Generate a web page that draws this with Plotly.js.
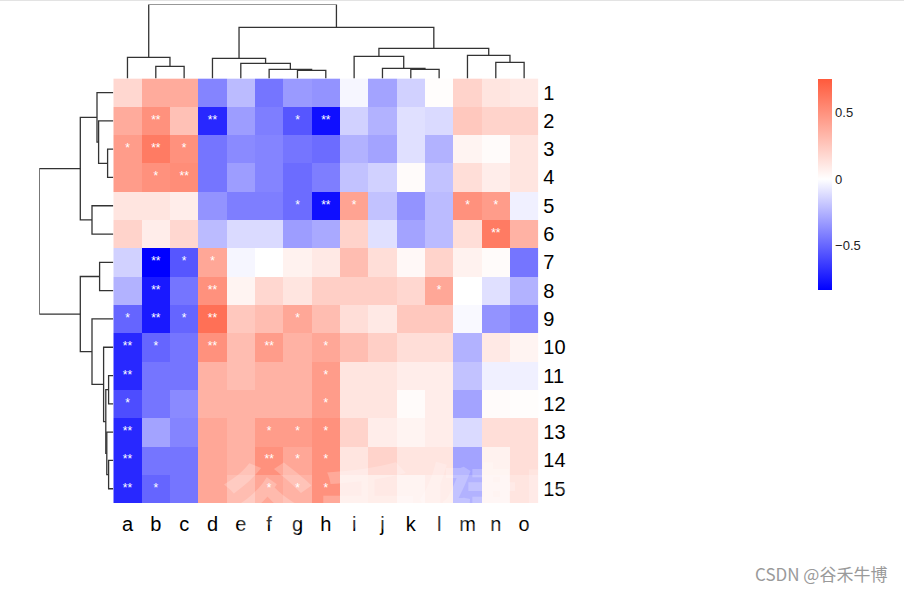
<!DOCTYPE html>
<html><head><meta charset="utf-8">
<script src="https://cdn.plot.ly/plotly-3.0.1.min.js"></script>
<style>html,body{margin:0;padding:0;background:#fff;} #chart{width:904px;height:590px;}</style>
</head><body><div id="chart"></div>
<script>
const colLabels = ['a','b','c','d','e','f','g','h','i','j','k','l','m','n','o'];
const rowLabels = ['1','2','3','4','5','6','7','8','9','10','11','12','13','14','15'];

// correlation values, rows 1..15, columns a..o
const row01 = [0.18, 0.38, 0.38, -0.40, -0.22, -0.45, -0.33, -0.35, -0.03, -0.30, -0.15, 0.01, 0.20, 0.12, 0.10];
const row02 = [0.38, 0.50, 0.28, -0.70, -0.32, -0.42, -0.55, -0.78, -0.15, -0.25, -0.10, -0.12, 0.25, 0.20, 0.20];
const row03 = [0.45, 0.60, 0.50, -0.45, -0.38, -0.40, -0.45, -0.48, -0.25, -0.30, -0.10, -0.25, 0.05, 0.02, 0.12];
const row04 = [0.45, 0.50, 0.52, -0.45, -0.32, -0.40, -0.48, -0.42, -0.20, -0.15, 0.02, -0.20, 0.15, 0.08, 0.12];
const row05 = [0.12, 0.12, 0.08, -0.35, -0.42, -0.42, -0.48, -0.78, 0.42, -0.20, -0.35, -0.22, 0.50, 0.45, -0.05];
const row06 = [0.20, 0.08, 0.18, -0.22, -0.12, -0.12, -0.32, -0.28, 0.20, -0.10, -0.30, -0.22, 0.15, 0.60, 0.35];
const row07 = [-0.15, -0.83, -0.55, 0.40, -0.03, 0.00, 0.06, 0.10, 0.30, 0.15, 0.03, 0.20, 0.06, 0.02, -0.45];
const row08 = [-0.25, -0.75, -0.45, 0.50, 0.05, 0.18, 0.12, 0.22, 0.22, 0.22, 0.18, 0.40, 0.00, -0.10, -0.25];
const row09 = [-0.50, -0.75, -0.50, 0.65, 0.25, 0.30, 0.40, 0.30, 0.15, 0.10, 0.25, 0.25, -0.02, -0.35, -0.40];
const row10 = [-0.70, -0.50, -0.45, 0.50, 0.30, 0.45, 0.35, 0.40, 0.30, 0.22, 0.15, 0.15, -0.25, 0.10, 0.05];
const row11 = [-0.70, -0.45, -0.45, 0.35, 0.30, 0.35, 0.35, 0.45, 0.12, 0.12, 0.08, 0.08, -0.20, -0.05, -0.05];
const row12 = [-0.58, -0.45, -0.38, 0.35, 0.35, 0.35, 0.35, 0.45, 0.12, 0.12, 0.02, 0.08, -0.30, 0.02, 0.01];
const row13 = [-0.70, -0.30, -0.40, 0.40, 0.35, 0.45, 0.45, 0.50, 0.20, 0.08, 0.05, 0.08, -0.12, 0.15, 0.15];
const row14 = [-0.70, -0.45, -0.45, 0.40, 0.35, 0.50, 0.40, 0.50, 0.12, 0.20, 0.12, 0.12, -0.30, 0.06, 0.15];
const row15 = [-0.70, -0.50, -0.45, 0.40, 0.30, 0.40, 0.35, 0.50, 0.08, 0.10, 0.05, 0.08, -0.25, 0.05, 0.12];
const values = [row01,row02,row03,row04,row05,row06,row07,row08,row09,row10,row11,row12,row13,row14,row15];

// significance marks, rows 1..15, columns a..o
const stars = [
  ['','','','','','','','','','','','','','',''],
  ['','**','','**','','','*','**','','','','','','',''],
  ['*','**','*','','','','','','','','','','','',''],
  ['','*','**','','','','','','','','','','','',''],
  ['','','','','','','*','**','*','','','','*','*',''],
  ['','','','','','','','','','','','','','**',''],
  ['','**','*','*','','','','','','','','','','',''],
  ['','**','','**','','','','','','','','*','','',''],
  ['*','**','*','**','','','*','','','','','','','',''],
  ['**','*','','**','','**','','*','','','','','','',''],
  ['**','','','','','','','*','','','','','','',''],
  ['*','','','','','','','*','','','','','','',''],
  ['**','','','','','*','*','*','','','','','','',''],
  ['**','','','','','**','*','*','','','','','','',''],
  ['**','*','','','','*','*','*','','','','','','','']
];

// hclust-style merges: negative = leaf (1-based), positive = earlier merge; third = height
const colMerges = [[-2,-3,12],[-1,1,21],[-7,-8,8],[-6,3,9],[-5,4,15],[-4,5,20],[-11,-12,9],[-10,7,10],[-9,8,22],[-14,-15,16],[-13,10,23],[9,11,30],[6,12,51],[2,13,74]];
const rowMerges = [[-3,-4,5.7],[-2,1,14.7],[-1,2,16.3],[-5,-6,21.3],[3,4,33],[-7,-8,13.7],[-11,-12,4.7],[-14,-15,4.7],[-13,8,6.5],[7,9,7.5],[-10,10,9.7],[-9,11,21.3],[6,12,33],[5,13,74]];

const zMin = -0.83, zMax = 0.75;

const W = 904, H = 590;
const px = x => x / W;
const py = y => 1 - y / H;

function dendro(merges) {
  const pos = [], hgt = [], P = [], Hh = [];
  const info = id => id < 0 ? [-id, 0] : [pos[id - 1], hgt[id - 1]];
  merges.forEach(([l, r, h]) => {
    const [pl, hl] = info(l), [pr, hr] = info(r);
    P.push(pl, pl, pr, pr, null);
    Hh.push(hl, h, h, hr, null);
    pos.push((pl + pr) / 2); hgt.push(h);
  });
  return {p: P, h: Hh};
}

const idx = colLabels.map((_, i) => i + 1);
const ridx = rowLabels.map((_, i) => i + 1);

const heat = {
  type: 'heatmap', z: values, x: idx, y: ridx, xaxis: 'x', yaxis: 'y',
  zmin: zMin, zmax: zMax,
  colorscale: [[0, '#0000FF'], [(-zMin) / (zMax - zMin), '#FFFFFF'], [1, '#FF5A3C']],
  hoverinfo: 'skip', xgap: 0, ygap: 0,
  colorbar: {
    x: px(818), xanchor: 'left', xpad: 0, y: py(79), yanchor: 'top', ypad: 0,
    len: 211, lenmode: 'pixels', thickness: 14, thicknessmode: 'pixels',
    outlinewidth: 0, ticks: '', tickvals: [-0.5, 0, 0.5], ticktext: ['\u22120.5', '0', '0.5'],
    tickfont: {family: 'Liberation Sans, Arial, sans-serif', size: 13, color: '#222'}
  }
};

const sx = [], sy = [], st = [];
stars.forEach((row, r) => row.forEach((s, c) => { if (s) { sx.push(c + 1); sy.push(r + 1); st.push(s); } }));
const starTrace = {
  type: 'scatter', mode: 'text', x: sx, y: sy, text: st, xaxis: 'x', yaxis: 'y',
  textposition: 'middle center', hoverinfo: 'skip', showlegend: false,
  textfont: {family: 'Liberation Sans, Arial, sans-serif', size: 12, color: '#ffffff'}
};

const cd = dendro(colMerges);
const topDendro = {
  type: 'scatter', mode: 'lines', x: cd.p, y: cd.h, xaxis: 'x2', yaxis: 'y2',
  line: {color: '#333', width: 1.3}, hoverinfo: 'skip', showlegend: false, cliponaxis: false
};
const rd = dendro(rowMerges);
const leftDendro = {
  type: 'scatter', mode: 'lines', x: rd.h, y: rd.p, xaxis: 'x3', yaxis: 'y3',
  line: {color: '#333', width: 1.3}, hoverinfo: 'skip', showlegend: false, cliponaxis: false
};

const labFont = {family: 'Liberation Sans, Arial, sans-serif', size: 20, color: '#000'};
const hx = [px(113.3), px(538.3)];
const hy = [py(502.9), py(78.4)];

const layout = {
  width: W, height: H, margin: {l: 0, r: 0, t: 0, b: 0},
  paper_bgcolor: '#fff', plot_bgcolor: 'rgba(0,0,0,0)', showlegend: false,
  xaxis: {domain: hx, range: [0.5, 15.5], tickvals: idx, ticktext: colLabels, tickfont: labFont,
    showgrid: false, zeroline: false, showline: false, ticks: '', ticklabelstandoff: 7, anchor: 'y', fixedrange: true},
  yaxis: {domain: hy, range: [15.5, 0.5], tickvals: ridx, ticktext: rowLabels, tickfont: labFont, side: 'right',
    showgrid: false, zeroline: false, showline: false, ticks: '', ticklabelstandoff: 4, anchor: 'x', fixedrange: true},
  xaxis2: {domain: hx, range: [0.5, 15.5], visible: false, anchor: 'y2'},
  yaxis2: {domain: [py(78.4), py(4.4)], range: [0, 74], visible: false, anchor: 'x2'},
  xaxis3: {domain: [px(39.3), px(113.3)], range: [74, 0], visible: false, anchor: 'y3'},
  yaxis3: {domain: hy, range: [15.5, 0.5], visible: false, anchor: 'x3'},
  shapes: [{type: 'line', xref: 'paper', yref: 'paper', x0: 0, x1: 1, y0: py(0.5), y1: py(0.5), line: {color: '#e3e3e3', width: 1}}],
  annotations: [
    {text: '谷禾健康', xref: 'paper', yref: 'paper', x: px(418), y: py(503), xanchor: 'center', yanchor: 'middle', showarrow: false,
     font: {family: 'Noto Sans CJK SC', size: 100, weight: 700, color: 'rgba(255,255,255,0.22)'}},
    {text: 'CSDN @谷禾牛博', xref: 'paper', yref: 'paper', x: px(889), y: py(573), xanchor: 'right', yanchor: 'middle', showarrow: false,
     font: {family: 'Noto Sans CJK SC, Liberation Sans, sans-serif', size: 17, color: '#9a9a9a'}}
  ]
};

Plotly.newPlot('chart', [heat, starTrace, topDendro, leftDendro], layout, {staticPlot: true, displayModeBar: false});
</script>
</body></html>
